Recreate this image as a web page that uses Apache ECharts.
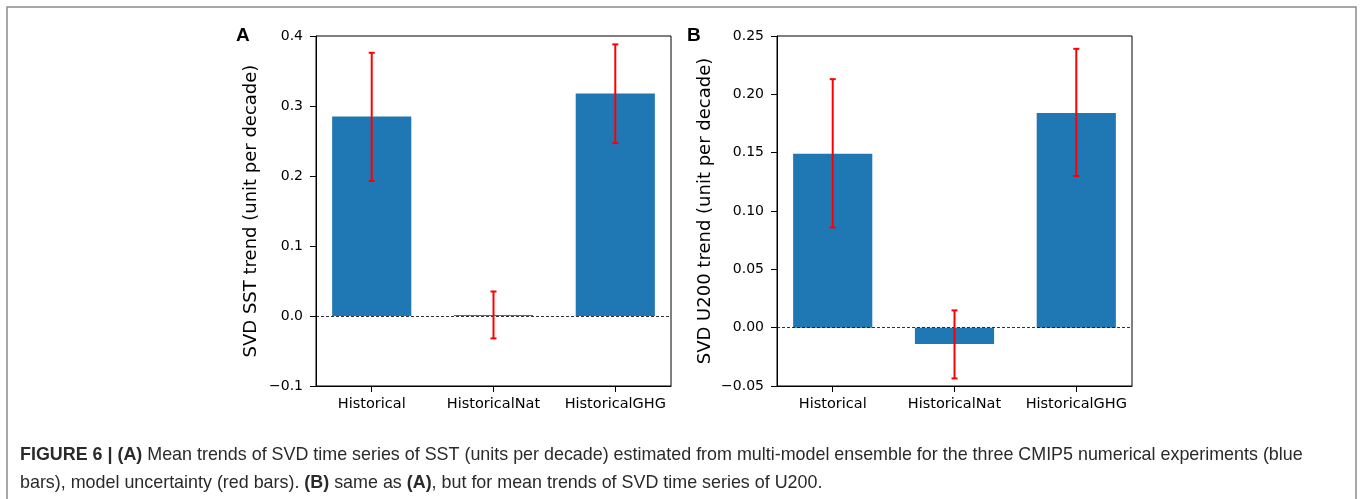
<!DOCTYPE html>
<html>
<head>
<meta charset="utf-8">
<script src="https://cdn.jsdelivr.net/npm/echarts@6/dist/echarts.min.js"></script>
<style>
  html, body { margin: 0; padding: 0; background: #fff; }
  #chart { width: 1360px; height: 499px; }
</style>
</head>
<body>
<div id="chart"></div>
<script>
// categories shared by both panels
var categories = ['Historical', 'HistoricalNat', 'HistoricalGHG']

// panel A: SST trend
var sstMean = [0.285, 0.0015, 0.318]
var sstLow = [0.193, -0.032, 0.247]
var sstHigh = [0.376, 0.035, 0.388]
var sstTicks = [-0.1, 0.0, 0.1, 0.2, 0.3, 0.4]

// panel B: U200 trend
var u200Mean = [0.149, -0.014, 0.184]
var u200Low = [0.086, -0.0435, 0.130]
var u200High = [0.213, 0.0148, 0.239]
var u200Ticks = [-0.05, 0.00, 0.05, 0.10, 0.15, 0.20, 0.25]

var tickFont = '"DejaVu Sans", sans-serif'
var blue = '#1f77b4'

function fmt (digits) {
  return function (v) {
    var s = Math.abs(v).toFixed(digits)
    return v < -1e-9 ? '\u2212' + s : s
  }
}

function xAxisOf (idx) {
  return {
    type: 'value',
    gridIndex: idx,
    min: -0.4575,
    max: 2.4575,
    splitLine: { show: false },
    axisLine: { show: true, onZero: false, lineStyle: { color: '#000', width: 1 } },
    axisTick: { show: true, customValues: [0, 1, 2], length: 6, lineStyle: { color: '#000' } },
    axisLabel: {
      customValues: [0, 1, 2],
      margin: 11,
      color: '#000',
      fontFamily: tickFont,
      fontSize: 14.5,
      formatter: function (v) { return categories[Math.round(v)] }
    }
  }
}

function yAxisOf (idx, ticks, digits, name, gap) {
  return {
    type: 'value',
    gridIndex: idx,
    min: ticks[0],
    max: ticks[ticks.length - 1],
    interval: ticks[1] - ticks[0],
    name: name,
    nameLocation: 'middle',
    nameGap: gap,
    nameTextStyle: { color: '#000', fontFamily: tickFont, fontSize: 18 },
    splitLine: { show: false },
    axisLine: { show: true, onZero: false, lineStyle: { color: '#000', width: 1 } },
    axisTick: { show: true, length: 6, lineStyle: { color: '#000' } },
    axisLabel: { margin: 13, color: '#000', fontFamily: tickFont, fontSize: 14, formatter: fmt(digits) }
  }
}

function barSeries (idx, mean) {
  return {
    type: 'bar',
    xAxisIndex: idx,
    yAxisIndex: idx,
    barWidth: '65%',
    itemStyle: { color: blue },
    data: mean.map(function (v, i) { return [i, v] }),
    markLine: {
      silent: true,
      symbol: 'none',
      label: { show: false },
      lineStyle: { color: '#000', width: 0.8, type: [3, 2] },
      data: [{ yAxis: 0 }]
    }
  }
}

function errSeries (idx, low, high) {
  return {
    type: 'custom',
    xAxisIndex: idx,
    yAxisIndex: idx,
    z: 5,
    data: low.map(function (v, i) { return [i, v, high[i]] }),
    encode: { x: 0, y: [1, 2] },
    renderItem: function (params, api) {
      var lo = api.coord([api.value(0), api.value(1)])
      var hi = api.coord([api.value(0), api.value(2)])
      var st = { stroke: 'red', lineWidth: 2 }
      return {
        type: 'group',
        children: [
          { type: 'line', shape: { x1: lo[0], y1: lo[1], x2: hi[0], y2: hi[1] }, style: st },
          { type: 'line', shape: { x1: lo[0] - 3, y1: lo[1], x2: lo[0] + 3, y2: lo[1] }, style: st },
          { type: 'line', shape: { x1: hi[0] - 3, y1: hi[1], x2: hi[0] + 3, y2: hi[1] }, style: st }
        ]
      }
    }
  }
}

var chart = echarts.init(document.getElementById('chart'))
var option = {
  animation: false,
  backgroundColor: '#fff',
  grid: [
    { left: 316, top: 36, width: 355, height: 350, show: true, borderColor: '#000', borderWidth: 1, backgroundColor: '#fff' },
    { left: 777, top: 36, width: 355, height: 350, show: true, borderColor: '#000', borderWidth: 1, backgroundColor: '#fff' }
  ],
  xAxis: [xAxisOf(0), xAxisOf(1)],
  yAxis: [
    yAxisOf(0, sstTicks, 1, 'SVD SST trend (unit per decade)', 56),
    yAxisOf(1, u200Ticks, 2, 'SVD U200 trend (unit per decade)', 63)
  ],
  series: [
    barSeries(0, sstMean),
    errSeries(0, sstLow, sstHigh),
    barSeries(1, u200Mean),
    errSeries(1, u200Low, u200High)
  ],
  graphic: [
    { type: 'rect', shape: { x: 7, y: 7, width: 1349, height: 600 }, style: { fill: 'none', stroke: '#8a8a8a', lineWidth: 1.5 }, silent: true },
    { type: 'text', left: 236, top: 26, style: { text: 'A', font: 'bold 19px "Liberation Sans"', fill: '#000' } },
    { type: 'text', left: 687, top: 26, style: { text: 'B', font: 'bold 19px "Liberation Sans"', fill: '#000' } },
    {
      type: 'text',
      left: 20,
      top: 441,
      style: {
        text: '{b|FIGURE 6 | (A)} Mean trends of SVD time series of SST (units per decade) estimated from multi-model ensemble for the three CMIP5 numerical experiments (blue\n' +
              'bars), model uncertainty (red bars). {b|(B)} same as {b|(A)}, but for mean trends of SVD time series of U200.',
        font: '17.9px "Liberation Sans"',
        fill: '#2a2a2a',
        lineHeight: 28,
        rich: {
          b: { fontWeight: 'bold', fontFamily: 'Liberation Sans', fontSize: 17.9, fill: '#2a2a2a', lineHeight: 28 }
        }
      }
    }
  ]
}
chart.setOption(option)
</script>
</body>
</html>
